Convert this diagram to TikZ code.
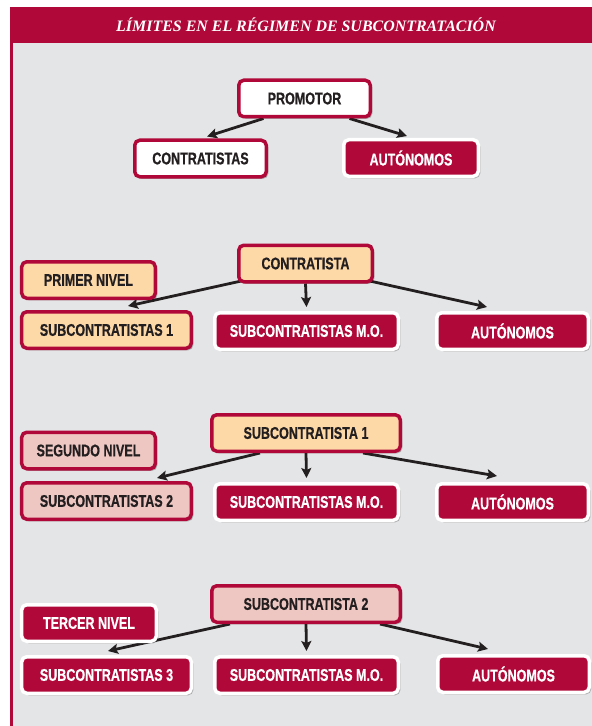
\documentclass[tikz,border=0pt]{standalone}
\usepackage{fontspec}
\usetikzlibrary{arrows.meta,shadows}
\newfontfamily\cajafont[FakeStretch=0.74,FakeBold=0.6]{Liberation Sans}
\newfontfamily\titulofont{Liberation Serif}
\definecolor{rojo}{RGB}{176,8,56}
\definecolor{naranja}{RGB}{253,217,168}
\definecolor{rosa}{RGB}{239,199,194}
\definecolor{fondogris}{RGB}{228,229,230}
\definecolor{tinta}{RGB}{35,31,32}
\pgfdeclarelayer{fondo}
\pgfsetlayers{fondo,main}

\begin{document}
\begin{tikzpicture}[x=1bp,y=-1bp,
    caja/.style={rounded corners=5bp,line width=3.5bp,minimum height=36.5bp,inner sep=0pt,
        font=\cajafont\bfseries\fontsize{17}{17}\selectfont,
        drop shadow={shadow xshift=2bp,shadow yshift=-2bp,opacity=0.25,fill=black}},
    blanca/.style={caja,fill=white,draw=rojo,text=tinta},
    roja/.style={caja,fill=rojo,draw=white,text=white},
    naranj/.style={caja,fill=naranja,draw=rojo,text=tinta},
    rosada/.style={caja,fill=rosa,draw=rojo,text=tinta},
    flecha/.style={line width=2.8bp,draw=tinta,-{Stealth[length=10bp,width=10bp,inset=2bp]}}]
    \useasboundingbox (0,0) rectangle (592,726);
    \begin{pgfonlayer}{fondo}
    \fill[white] (0,0) rectangle (592,726);
    \fill[fondogris] (10,43) rectangle (592,726);
    \fill[rojo] (10,7) rectangle (592,43);
    \fill[rojo] (10,43) rectangle (12.5,726);
    \end{pgfonlayer}
    \node[text=white,font=\titulofont\bfseries\itshape\fontsize{16}{16}\selectfont] (titulo) at (306,25) {LÍMITES EN EL RÉGIMEN DE SUBCONTRATACIÓN};

    \node[blanca,minimum width=131.5bp] (promotor) at (304.5,98.5) {PROMOTOR};
    \node[blanca,minimum width=131.5bp] (contratistas) at (200.5,158.5) {CONTRATISTAS};
    \node[roja,minimum width=134.5bp] (aut0) at (411,158) {AUTÓNOMOS};

    \node[naranj,minimum width=133.5bp] (contratista) at (305.5,263.5) {CONTRATISTA};
    \node[naranj,minimum width=133.5bp] (primer) at (88.5,280) {PRIMER NIVEL};
    \node[naranj,minimum width=169.5bp] (sub1) at (106.5,330) {SUBCONTRATISTAS 1};
    \node[roja,minimum width=183.5bp] (mo1) at (306.5,331) {SUBCONTRATISTAS M.O.};
    \node[roja,minimum width=151.5bp] (aut1) at (512.5,331) {AUTÓNOMOS};

    \node[naranj,minimum width=188.5bp] (subc1) at (306,433) {SUBCONTRATISTA 1};
    \node[rosada,minimum width=133.5bp] (segundo) at (88.5,450.5) {SEGUNDO NIVEL};
    \node[rosada,minimum width=169.5bp] (sub2) at (106.5,501) {SUBCONTRATISTAS 2};
    \node[roja,minimum width=183.5bp] (mo2) at (306.5,502) {SUBCONTRATISTAS M.O.};
    \node[roja,minimum width=151.5bp] (aut2) at (512.5,502) {AUTÓNOMOS};

    \node[rosada,minimum width=188.5bp] (subc2) at (306,604) {SUBCONTRATISTA 2};
    \node[roja,minimum width=134.5bp] (tercer) at (89,623) {TERCER NIVEL};
    \node[roja,minimum width=169.5bp] (sub3) at (106.5,675) {SUBCONTRATISTAS 3};
    \node[roja,minimum width=183.5bp] (mo3) at (306.5,675) {SUBCONTRATISTAS M.O.};
    \node[roja,minimum width=151.5bp] (aut3) at (513.5,674) {AUTÓNOMOS};

    \begin{pgfonlayer}{fondo}
    \draw[flecha] ([xshift=-41bp]promotor.south) -- ([xshift=6.5bp,yshift=2bp]contratistas.north);
    \draw[flecha] ([xshift=45bp]promotor.south) -- ([xshift=-4bp,yshift=2bp]aut0.north);

    \draw[flecha] ([xshift=-62bp,yshift=3bp]contratista.south) -- ([xshift=21.5bp,yshift=4bp]sub1.north);
    \draw[flecha] (contratista.south) -- ([yshift=4bp]mo1.north);
    \draw[flecha] ([xshift=62bp,yshift=3bp]contratista.south) -- ([xshift=-25.5bp,yshift=4bp]aut1.north);

    \draw[flecha] ([xshift=-46bp]subc1.south) -- ([xshift=50.5bp,yshift=3bp]sub2.north);
    \draw[flecha] (subc1.south) -- ([yshift=4bp]mo2.north);
    \draw[flecha] ([xshift=57bp]subc1.south) -- ([xshift=-15.5bp,yshift=6bp]aut2.north);

    \draw[flecha] ([xshift=-76bp]subc2.south) -- ([xshift=1.5bp,yshift=4bp]sub3.north);
    \draw[flecha] (subc2.south) -- ([yshift=4bp]mo3.north);
    \draw[flecha] ([xshift=74bp]subc2.south) -- ([xshift=-25.5bp,yshift=5bp]aut3.north);
    \end{pgfonlayer}
\end{tikzpicture}
\end{document}
